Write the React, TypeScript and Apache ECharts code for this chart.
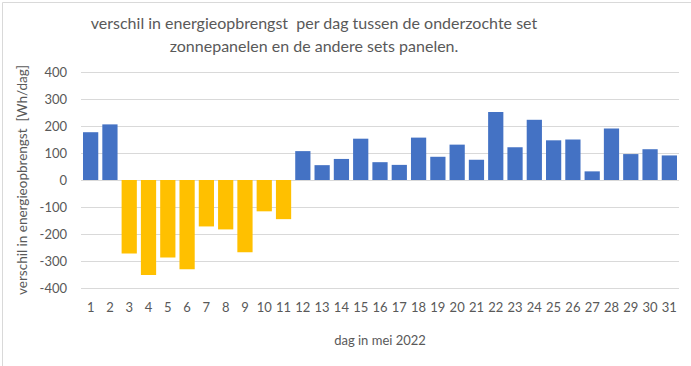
import React, { useEffect, useRef } from "react";
import * as echarts from "echarts";

const days: string[] = Array.from({ length: 31 }, (_, i) => String(i + 1));
const values: number[] = [
  177, 206, -272, -352, -287, -331, -172, -183, -268, -116, -145,
  107, 55, 78, 153, 66, 56, 157, 86, 131, 75, 252, 121, 223, 147,
  150, 32, 191, 96, 114, 91,
];
const yTicks = { min: -400, max: 400, interval: 100 };
const titleLines: string[] = [
  "verschil in energieopbrengst  per dag tussen de onderzochte set",
  "zonnepanelen en de andere sets panelen.",
];
const yName = "verschil in energieopbrengst  [Wh/dag]";
const xName = "dag in mei 2022";

const FONT = "Lato";
const TXT = "#595959";

export default function App() {
  const ref = useRef<HTMLDivElement>(null);
  useEffect(() => {
    if (!ref.current) return;
    const chart = echarts.init(ref.current, undefined, { renderer: "svg" });
    chart.setOption({
      animation: false,
      backgroundColor: "#ffffff",
      textStyle: { fontFamily: FONT },
      title: {
        text: titleLines.join("\n"),
        left: 309,
        top: 6,
        textAlign: "center",
        textStyle: {
          fontFamily: FONT,
          fontSize: 16,
          fontWeight: "normal",
          color: TXT,
          lineHeight: 23,
        },
      },
      graphic: [
        {
          type: "rect",
          left: 0,
          top: 0,
          shape: { x: 0, y: 0, width: 690, height: 365 },
          style: { fill: "none", stroke: "#D9D9D9", lineWidth: 1 },
          silent: true,
        },
      ],
      grid: { left: 81, right: 12, top: 72, bottom: 78 },
      xAxis: {
        type: "category",
        data: days,
        axisLine: { show: false, onZero: false },
        axisTick: { show: false },
        axisLabel: {
          color: TXT,
          fontSize: 13,
          fontFamily: FONT,
          margin: 12,
          interval: 0,
        },
        name: xName,
        nameLocation: "middle",
        nameGap: 45,
        nameTextStyle: { color: TXT, fontSize: 13, fontFamily: FONT },
      },
      yAxis: {
        type: "value",
        min: yTicks.min,
        max: yTicks.max,
        interval: yTicks.interval,
        axisLine: { show: false },
        axisTick: { show: false },
        splitLine: { lineStyle: { color: "#D9D9D9", width: 1 } },
        axisLabel: {
          color: TXT,
          fontSize: 13,
          fontFamily: FONT,
          margin: 14,
        },
        name: yName,
        nameLocation: "middle",
        nameGap: 52,
        nameTextStyle: { color: TXT, fontSize: 13.5, fontFamily: FONT },
      },
      series: [
        {
          type: "bar",
          data: values,
          barCategoryGap: "21%",
          itemStyle: {
            color: (p: any) => (p.value < 0 ? "#FFC000" : "#4472C4"),
          },
        },
      ],
    });
    return () => chart.dispose();
  }, []);
  return (
    <div
      ref={ref}
      style={{ position: "fixed", left: 0, top: 0, width: 691, height: 366 }}
    />
  );
}
